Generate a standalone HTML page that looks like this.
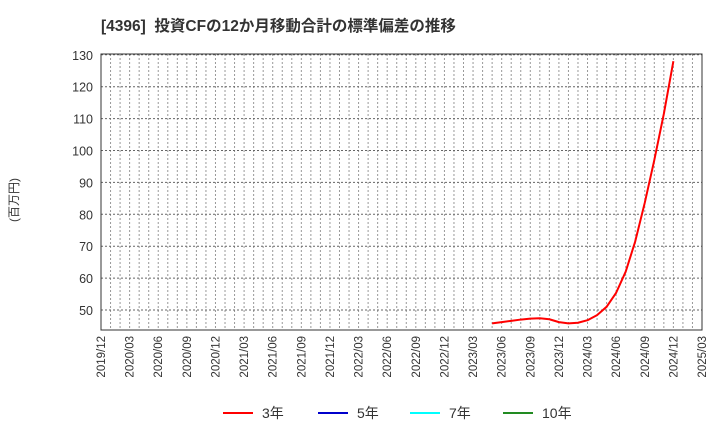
<!DOCTYPE html>
<html><head><meta charset="utf-8"><style>
body{margin:0;background:#fff;width:720px;height:440px;overflow:hidden;font-family:"Liberation Sans","Noto Sans CJK JP",sans-serif;}
</style></head><body>
<svg id="c" width="720" height="440" xmlns="http://www.w3.org/2000/svg" font-family="Liberation Sans, Noto Sans CJK JP, sans-serif">
<text x="101" y="31" font-size="15.5" font-weight="bold" fill="#333">[4396]&#160; 投資CFの12か月移動合計の標準偏差の推移</text>
<text transform="translate(18,200) rotate(-90)" font-size="12" fill="#333" text-anchor="middle">(百万円)</text>
<g id="grid"></g><g id="axes"></g><g id="series"></g>
<g font-size="14" fill="#333">
<line x1="223" y1="413" x2="253" y2="413" stroke="#ff0000" stroke-width="2"/><text x="262" y="418">3年</text>
<line x1="318" y1="413" x2="348" y2="413" stroke="#0000cc" stroke-width="2"/><text x="357" y="418">5年</text>
<line x1="410" y1="413" x2="440" y2="413" stroke="#00ffff" stroke-width="2"/><text x="449" y="418">7年</text>
<line x1="503" y1="413" x2="533" y2="413" stroke="#228B22" stroke-width="2"/><text x="542" y="418">10年</text>
</g>
</svg>
<script>
const yTicks=[50,60,70,80,90,100,110,120,130];
const xTickLabels=["2019/12","2020/03","2020/06","2020/09","2020/12","2021/03","2021/06","2021/09","2021/12","2022/03","2022/06","2022/09","2022/12","2023/03","2023/06","2023/09","2023/12","2024/03","2024/06","2024/09","2024/12","2025/03"];
const seriesStartMonth=41; // months after 2019/12 (2023/05)
const series3y=[45.8,46.2,46.6,47.0,47.3,47.4,47.1,46.2,45.8,46.0,46.8,48.4,51.0,55.4,62.0,71.5,83.6,97.0,111.5,128.0];
const L=101,R=702,T=54,B=330,NM=63;
const x=m=>L+(R-L)*m/NM;
const y=v=>310-(v-50)*3.19;
const NS="http://www.w3.org/2000/svg";
function mk(p,t,a){const e=document.createElementNS(NS,t);for(const k in a)e.setAttribute(k,a[k]);p.appendChild(e);return e;}
const g=document.getElementById('grid'),ax=document.getElementById('axes'),s=document.getElementById('series');
for(let m=1;m<NM;m++){const l=mk(g,'line',{x1:x(m),x2:x(m),y1:T,y2:B,stroke:'#999','stroke-dasharray':'2,2','stroke-width':1});

}
yTicks.forEach(v=>{const l=mk(g,'line',{x1:L,x2:R,y1:y(v),y2:y(v),stroke:'#666','stroke-dasharray':'2,2','stroke-width':1});


const t=mk(ax,'text',{x:L-8,y:y(v)+5,'font-size':12.5,fill:'#333','text-anchor':'end'});t.textContent=v;

});
xTickLabels.forEach((lab,i)=>{const xx=x(i*3);const t=mk(ax,'text',{transform:`translate(${xx+4},${B+6}) rotate(-90)`,'font-size':11.5,fill:'#333','text-anchor':'end'});t.textContent=lab;

});
const fr=mk(ax,'rect',{x:L,y:T,width:R-L,height:B-T,fill:'none',stroke:'#333','stroke-width':1});


const pts=series3y.map((v,i)=>x(seriesStartMonth+i)+','+y(v)).join(' ');
const pl=mk(s,'polyline',{points:pts,fill:'none',stroke:'#ff0000','stroke-width':2,'stroke-linejoin':'round'});


</script>
</body></html>
